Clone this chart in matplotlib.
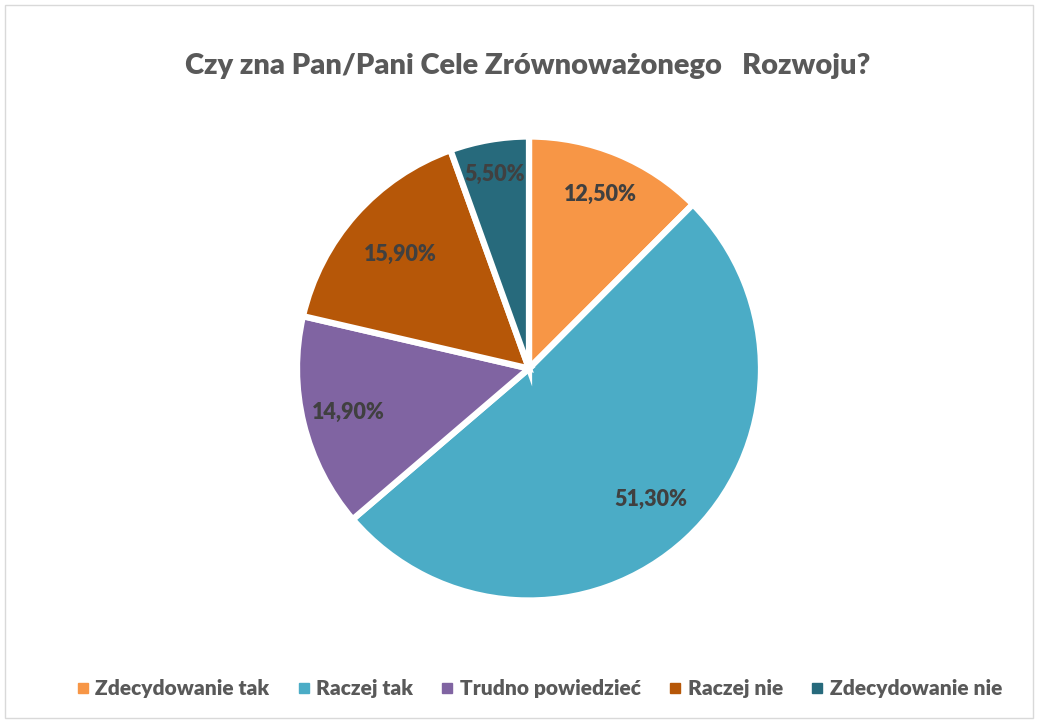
import numpy as np
import matplotlib
matplotlib.use("Agg")
import matplotlib.pyplot as plt
from matplotlib.lines import Line2D
from matplotlib.patches import Rectangle

categories = ["Zdecydowanie tak", "Raczej tak", "Trudno powiedzieć", "Raczej nie", "Zdecydowanie nie"]
values = [12.5, 51.3, 14.9, 15.9, 5.5]
labels = ["12,50%", "51,30%", "14,90%", "15,90%", "5,50%"]
colors = ["#F79646", "#4BACC6", "#8064A2", "#B65708", "#276A7C"]
title = "Czy zna Pan/Pani Cele Zrównoważonego   Rozwoju?"

# label radial placement (fraction of radius)
label_dist = [0.81, 0.77, 0.80, 0.74, 0.85]

plt.rcParams['font.family'] = ['Lato', 'DejaVu Sans']

W, H = 1039, 722
fig = plt.figure(figsize=(W / 100, H / 100), dpi=100)
fig.patch.set_facecolor("white")

fig.add_artist(Rectangle((5 / W, 4 / H), 1028 / W, 713 / H, transform=fig.transFigure,
                         fill=False, edgecolor="#D9D9D9", linewidth=1))

cx, cy, r = 529, 368.5, 232
ax = fig.add_axes([(cx - r) / W, 1 - (cy + r) / H, 2 * r / W, 2 * r / H])
wedges, _ = ax.pie(values, colors=colors, startangle=90, counterclock=False,
                   wedgeprops=dict(edgecolor="white", linewidth=4.5))
for w, lab, d in zip(wedges, labels, label_dist):
    ang = np.deg2rad((w.theta1 + w.theta2) / 2)
    ax.text(d * np.cos(ang), d * np.sin(ang), lab, ha="center", va="center",
            color="#404040", fontsize=15.5, fontweight="heavy")
ax.set_xlim(-1, 1)
ax.set_ylim(-1, 1)
ax.set_aspect("equal")
ax.axis("off")

fig.text(0.508, 1 - 66 / H, title, ha="center", va="center", fontsize=21,
         fontweight="heavy", color="#595959")

handles = [Line2D([0], [0], marker="s", linestyle="none", markersize=7.5,
                  markerfacecolor=c, markeredgecolor=c) for c in colors]
fig.legend(handles, categories, loc="center", bbox_to_anchor=(0.517, 1 - 689 / H), ncol=5,
           frameon=False, handletextpad=0.1, columnspacing=1.15, handlelength=1.0,
           prop=dict(size=15, weight="heavy"), labelcolor="#595959")

fig.savefig("out.png", dpi=100, facecolor="white")
